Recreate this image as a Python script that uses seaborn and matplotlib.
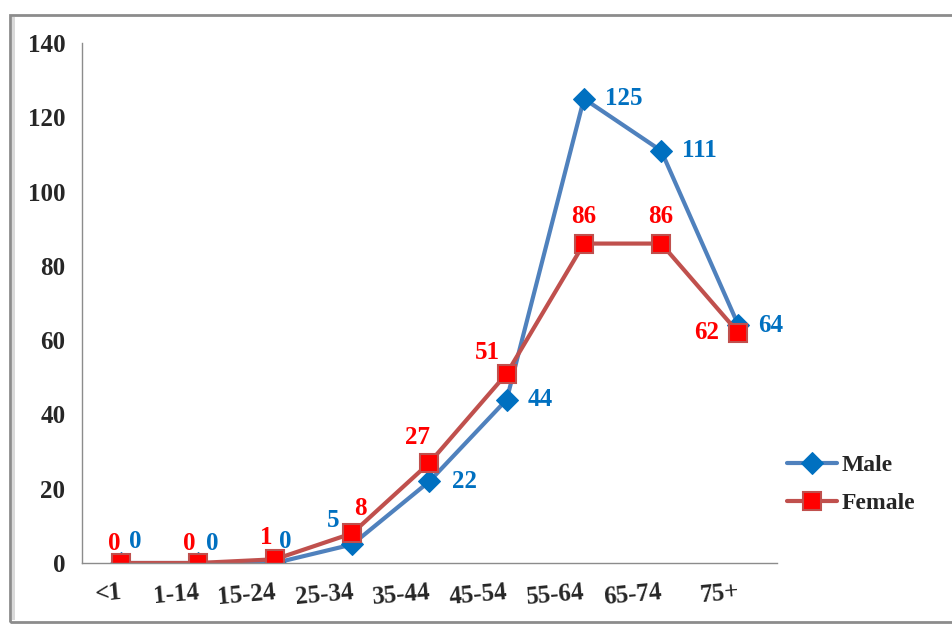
import matplotlib
matplotlib.use("Agg")
import matplotlib.pyplot as plt
import seaborn as sns
import pandas as pd
from matplotlib.patches import Rectangle

categories = ["<1", "1-14", "15-24", "25-34", "35-44", "45-54", "55-64", "65-74", "75+"]
male = [0, 0, 0, 5, 22, 44, 125, 111, 64]
female = [0, 0, 1, 8, 27, 51, 86, 86, 62]

# label offsets in pixels (dx, dy up-positive)
male_off = [(15, 22), (14, 20), (10, 22), (-19, 24), (35, 0), (34, 0), (40, 0), (38, 0), (32, 0)]
female_off = [(-6, 20), (-9, 20), (-9, 22), (8, 25), (-12, 25), (-19, 21), (0, 27), (0, 27), (-32, 0)]

sns.set_style("white")
plt.rcParams["font.family"] = ["Liberation Serif", "DejaVu Serif"]
plt.rcParams["font.weight"] = "bold"

fig = plt.figure(figsize=(9.53, 6.26), dpi=100)
ax = fig.add_axes([82 / 953, 1 - 563 / 626, (777 - 82) / 953, (563 - 43) / 626])

df_m = pd.DataFrame({"age": categories, "count": male})
df_f = pd.DataFrame({"age": categories, "count": female})

sns.lineplot(data=df_m, x="age", y="count", ax=ax, sort=False, color="#4F81BD",
             linewidth=3, marker="D", markersize=11, markerfacecolor="#0070C0",
             markeredgecolor="#0070C0", label="Male")
sns.lineplot(data=df_f, x="age", y="count", ax=ax, sort=False, color="#C0504D",
             linewidth=3, marker="s", markersize=13, markerfacecolor="#FF0000",
             markeredgecolor="#C0504D", markeredgewidth=1.5, label="Female")

px = 0.72
for i, (v, (dx, dy)) in enumerate(zip(male, male_off)):
    ax.annotate(str(v), (i, v), xytext=(dx * px, dy * px), textcoords="offset points",
                ha="center", va="center", color="#0070C0", fontsize=18, fontweight="bold")
for i, (v, (dx, dy)) in enumerate(zip(female, female_off)):
    ax.annotate(str(v), (i, v), xytext=(dx * px, dy * px), textcoords="offset points",
                ha="center", va="center", color="#FF0000", fontsize=18, fontweight="bold")

ax.set_xlim(-0.5, len(categories) - 0.5)
ax.set_ylim(0, 140)
ax.set_yticks(range(0, 141, 20))
ax.set_xlabel("")
ax.set_ylabel("")

ax.set_xticks(range(len(categories)))
ax.set_xticklabels(categories, rotation=5, ha="right", rotation_mode="anchor",
                   fontsize=18, fontweight="bold")
ax.tick_params(axis="x", which="major", length=0, pad=13)
ax.set_xticks([i - 0.5 for i in range(len(categories) + 1)], minor=True)
ax.tick_params(axis="x", which="minor", length=7, width=1, color="#8c8c8c", direction="out")
ax.tick_params(axis="y", length=7, width=1, color="#8c8c8c", direction="out",
               labelsize=18, pad=5)
for lab in ax.get_yticklabels():
    lab.set_fontweight("bold")

for s in ["top", "right"]:
    ax.spines[s].set_visible(False)
for s in ["left", "bottom"]:
    ax.spines[s].set_color("#8c8c8c")
    ax.spines[s].set_linewidth(1)

leg = ax.legend(loc="upper left", bbox_to_anchor=(766 / 953, 1 - 433 / 626),
                bbox_transform=fig.transFigure, frameon=False, handlelength=2.1,
                labelspacing=0.7, handletextpad=0.2,
                prop={"family": ["Liberation Serif"], "weight": "bold", "size": 17})

fig.patches.append(Rectangle((10 / 953, 4 / 626), 1.0, 1 - 19 / 626, transform=fig.transFigure,
                             fill=False, edgecolor="#8c8c8c", linewidth=2))
fig.patches.append(Rectangle((12 / 953, 6 / 626), 3 / 953, 1 - 23 / 626, transform=fig.transFigure,
                             facecolor="#d9d9d9", edgecolor="none"))

fig.savefig("out.png", dpi=100)
